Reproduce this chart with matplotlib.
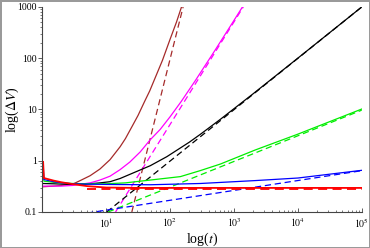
import matplotlib
matplotlib.use("Agg")
import matplotlib.pyplot as plt
from matplotlib.ticker import FixedLocator, LogLocator, NullFormatter

# values (t, delta V)
brown_t = [1, 1.5, 2, 3, 4, 5.6, 8, 11.5, 16.5, 20, 25.5, 31.6, 40, 48, 58, 76, 100, 126, 153]
brown_v = [0.31, 0.32, 0.33, 0.35, 0.415, 0.51, 0.69, 1.05, 1.87, 2.7, 4.7, 7.7, 14.4, 23,
           40.5, 91, 234, 507, 1050]
brown_dash_t = [25.2, 160]
brown_dash_v = [0.1, 1000]

magenta_t = [1, 2, 3, 5.6, 8, 11.5, 16.5, 23.4, 34, 49, 70, 100, 150, 250, 500, 870, 1370]
magenta_v = [0.32, 0.32, 0.33, 0.37, 0.42, 0.50, 0.67, 0.94, 1.48, 2.57, 4.08, 7.2, 14.4,
             37, 140, 415, 1018]
magenta_dash_t = [14, 1400]
magenta_dash_v = [0.1, 1000]

black_t = [1, 1.5, 2, 3, 5, 8, 11.5, 16.5, 34, 49, 89, 200, 300, 610, 2000, 1e4, 1e5]
black_v = [0.36, 0.355, 0.35, 0.345, 0.35, 0.37, 0.39, 0.45, 0.66, 0.8, 1.2, 2.3, 3.3, 6.4,
           20.3, 100.3, 1000]
black_dash_t = [10.2, 1e5]
black_dash_v = [0.1, 1000]

green_t = [1.03, 1.06, 1.5, 2, 3, 5, 10, 20, 49, 145, 295, 610, 2150, 1e4, 1e5]
green_v = [0.75, 0.40, 0.38, 0.37, 0.36, 0.355, 0.355, 0.37, 0.42, 0.49, 0.64, 0.86, 1.62, 3.3, 10.2]
green_dash_t = [10.7, 1e5]
green_dash_v = [0.1, 9.7]

blue_t = [1.03, 1.06, 1.5, 2, 3, 5, 10, 49, 300, 2150, 1e4, 1e5]
blue_v = [0.9, 0.43, 0.39, 0.37, 0.355, 0.35, 0.345, 0.34, 0.36, 0.41, 0.46, 0.65]
blue_dash_t = [5, 1e5]
blue_dash_v = [0.095, 0.64]

red_t = [1.03, 1.06, 1.5, 2, 3, 5, 10, 30, 1e5]
red_v = [0.95, 0.46, 0.41, 0.38, 0.35, 0.32, 0.30, 0.295, 0.295]
red_dash_t = [5, 1e5]
red_dash_v = [0.287, 0.287]

y_ticks = [0.1, 1, 10, 100, 1000]
y_labels = ["0.1", "1", "10", "100", "1000"]
x_ticks = [10, 100, 1000, 1e4, 1e5]
x_labels = [r"$10^{1}$", r"$10^{2}$", r"$10^{3}$", r"$10^{4}$", r"$10^{5}$"]


def main():
    plt.rcParams["font.family"] = ["Liberation Serif", "DejaVu Serif"]
    plt.rcParams["mathtext.fontset"] = "stix"

    fig = plt.figure(figsize=(3.7, 2.48), dpi=100)
    fig.patch.set_edgecolor("#9a9a9a")
    fig.patch.set_linewidth(2)
    ax = fig.add_axes([0.1143, 0.1452, 0.8633, 0.8266])

    dash = (5, 3)
    lw = 0.9
    ax.plot(brown_t, brown_v, color="#a52a2a", lw=lw)
    ax.plot(brown_dash_t, brown_dash_v, color="#a52a2a", lw=lw, dashes=dash)
    ax.plot(magenta_t, magenta_v, color="#ff00ff", lw=lw)
    ax.plot(magenta_dash_t, magenta_dash_v, color="#ff00ff", lw=lw, dashes=dash)
    ax.plot(black_t, black_v, color="black", lw=lw)
    ax.plot(black_dash_t, black_dash_v, color="black", lw=lw, dashes=dash)
    ax.plot(green_t, green_v, color="#00ee00", lw=lw)
    ax.plot(green_dash_t, green_dash_v, color="#00ee00", lw=lw, dashes=dash)
    ax.plot(blue_t, blue_v, color="#0000ff", lw=lw)
    ax.plot(blue_dash_t, blue_dash_v, color="#0000ff", lw=lw, dashes=dash)
    ax.plot(red_t, red_v, color="#ff0000", lw=1.3)
    ax.plot(red_dash_t, red_dash_v, color="#ff0000", lw=1.3, dashes=dash)

    ax.set_xscale("log")
    ax.set_yscale("log")
    ax.set_xlim(1, 1e5)
    ax.set_ylim(0.1, 1000)

    for side in ["top", "right"]:
        ax.spines[side].set_visible(False)
    for side in ["left", "bottom"]:
        ax.spines[side].set_color("#444444")
        ax.spines[side].set_linewidth(0.8)

    ax.yaxis.set_major_locator(FixedLocator(y_ticks))
    ax.set_yticklabels(y_labels)
    ax.xaxis.set_major_locator(FixedLocator(x_ticks))
    ax.set_xticklabels(x_labels)
    ax.xaxis.set_minor_locator(LogLocator(base=10, subs=range(2, 10), numticks=20))
    ax.yaxis.set_minor_locator(LogLocator(base=10, subs=range(2, 10), numticks=20))
    ax.xaxis.set_minor_formatter(NullFormatter())
    ax.yaxis.set_minor_formatter(NullFormatter())

    ax.tick_params(axis="x", which="major", direction="in", length=3, width=0.6,
                   labelsize=7, pad=3, color="#444444")
    ax.tick_params(axis="x", which="minor", direction="in", length=1.6, width=0.5,
                   color="#444444")
    ax.tick_params(axis="y", which="major", direction="out", length=3, width=0.6,
                   labelsize=7, pad=1, color="#444444")
    ax.tick_params(axis="y", which="minor", direction="out", length=1.6, width=0.5,
                   color="#444444")

    ax.set_xlabel(r"log($t$)", fontsize=10)
    ax.xaxis.set_label_coords(0.5, -0.09)
    ax.set_ylabel(r"log($\Delta V$)", fontsize=10)
    ax.yaxis.set_label_coords(-0.095, 0.5)
    ax.yaxis.label.set_va("center")

    fig.savefig("out.png", dpi=100)


if __name__ == '__main__':
    main()
